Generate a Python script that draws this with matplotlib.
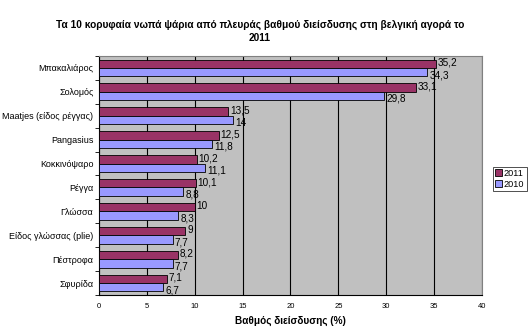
import numpy as np
import matplotlib.pyplot as plt

# δεδομένα
categories = ["Μπακαλιάρος", "Σολομός", "Maatjes (είδος ρέγγας)", "Pangasius",
              "Κοκκινόψαρο", "Ρέγγα", "Γλώσσα", "Είδος γλώσσας (plie)",
              "Πέστροφα", "Σφυρίδα"]
values_2011 = [35.2, 33.1, 13.5, 12.5, 10.2, 10.1, 10, 9, 8.2, 7.1]
values_2010 = [34.3, 29.8, 14, 11.8, 11.1, 8.8, 8.3, 7.7, 7.7, 6.7]
series_names = ["2011", "2010"]
x_ticks = [0, 5, 10, 15, 20, 25, 30, 35, 40]

plt.rcParams['font.family'] = ['Liberation Sans', 'DejaVu Sans']

fig = plt.figure(figsize=(5.3, 3.31), dpi=100)
ax = fig.add_axes([0.1868, 0.1088, 0.9094 - 0.1868, 0.8308 - 0.1088])
ax.set_facecolor("#C0C0C0")

y = np.arange(len(categories))
h = 0.35
b1 = ax.barh(y - h / 2, values_2011, height=h, color="#993366", edgecolor="black",
             linewidth=0.6, label=series_names[0], zorder=3)
b2 = ax.barh(y + h / 2, values_2010, height=h, color="#9999FF", edgecolor="black",
             linewidth=0.6, label=series_names[1], zorder=3)


def fmt(v):
    return f"{v:g}".replace(".", ",")


for bars, vals, dy in [(b1, values_2011, -0.05), (b2, values_2010, 0.12)]:
    for bar, v in zip(bars, vals):
        ax.text(v + 0.2, bar.get_y() + bar.get_height() / 2 + dy, fmt(v),
                fontsize=7.2, va="center", ha="left", zorder=4)

ax.set_xlim(0, 40)
ax.set_ylim(len(categories) - 0.5, -0.5)
ax.set_xticks(x_ticks)
ax.set_xticklabels([str(t) for t in x_ticks], fontsize=5.5)
ax.xaxis.grid(True, color="black", linewidth=0.8, zorder=1)
ax.set_axisbelow(True)
ax.tick_params(axis="x", length=0, pad=6)

ax.set_yticks(y)
ax.set_yticklabels(categories, fontsize=6.5)
ax.set_yticks(np.arange(len(categories) + 1) - 0.5, minor=True)
ax.tick_params(axis="y", which="major", length=0, pad=4)
ax.tick_params(axis="y", which="minor", length=3, direction="out")

for s in ["top", "right"]:
    ax.spines[s].set_color("#808080")
for s in ["left", "bottom"]:
    ax.spines[s].set_color("black")

ax.set_xlabel("Βαθμός διείσδυσης (%)", fontsize=7.2, fontweight="bold", labelpad=4)

fig.text(0.49, 0.905, "Τα 10 κορυφαία νωπά ψάρια από πλευράς βαθμού διείσδυσης στη βελγική αγορά το\n2011",
         ha="center", va="center", fontsize=7.3, fontweight="bold", linespacing=1.3)

leg = fig.legend(handles=[b1, b2], labels=series_names, loc="center",
                 bbox_to_anchor=(0.962, 0.46), fontsize=6.6, frameon=True,
                 fancybox=False, edgecolor="black", handlelength=0.7,
                 handleheight=0.7, handletextpad=0.2, borderpad=0.25,
                 labelspacing=0.2, borderaxespad=0)
leg.get_frame().set_linewidth(0.6)

fig.savefig("out.png", dpi=100)
